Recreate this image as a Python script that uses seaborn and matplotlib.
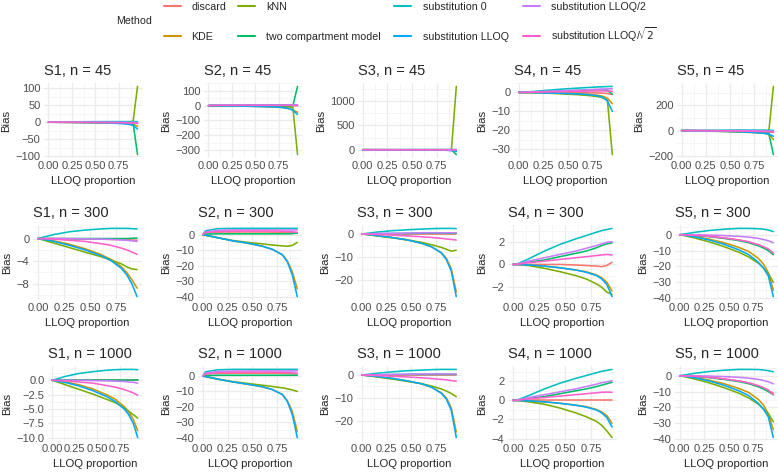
import numpy as np
import pandas as pd
import seaborn as sns
import matplotlib.pyplot as plt
from matplotlib.lines import Line2D
from matplotlib.ticker import FixedLocator, FuncFormatter

# -----------------------------
# DATA (bias by LLOQ proportion)
# -----------------------------
lloq = [0, 0.03, 0.15, 0.3, 0.45, 0.6, 0.7, 0.8, 0.85, 0.9, 0.95]

methods = ["discard", "KDE", "kNN", "two compartment model", "substitution 0",
           "substitution LLOQ", "substitution LLOQ/2", "substitution LLOQ/$\\sqrt{2}$"]
colors = ["#F8766D", "#CD9600", "#7CAE00", "#00BE67", "#00BFC4", "#00A9FF", "#C77CFF", "#FF61CC"]

# rows follow the order of `methods`
s1_n45 = [[0, 0, 0, 0, 0, -0.2, -0.4, -0.7, -1, -1.5, -3],
          [0, 0, -0.2, -0.4, -0.8, -1.3, -2, -3, -4, -6, -12],
          [0, 0, -0.5, -1, -1.5, -2, -2.5, -3, -3.5, -3, 105],
          [0, 0, 0, 0, 0, 0, 0, 0, 0.5, 2, -95],
          [0, 0.2, 0.8, 1.2, 1.5, 1.7, 1.8, 1.8, 1.8, 1.8, 1.7],
          [0, 0, -0.3, -0.7, -1.2, -2, -3, -4.5, -6, -9, -20],
          [0, 0, 0, 0, -0.1, -0.2, -0.3, -0.4, -0.5, -0.6, -1],
          [0, 0, -0.1, -0.3, -0.6, -1, -1.3, -1.7, -2, -2.5, -3.5]]
s2_n45 = [[0, 1.5, 1.8, 1.8, 1.8, 1.8, 1.7, 1.5, 1.3, 1, 0],
          [0, -0.3, -1.2, -2.5, -4, -6, -8, -13, -18, -28, -45],
          [0, -0.3, -1.2, -2.5, -3.5, -5, -6, -7, -8, -12, -330],
          [0, 0.5, 0.5, 0.5, 0.5, 0.5, 0.5, 0.5, 0.5, 0, 130],
          [0, 3, 4, 4.3, 4.3, 4.3, 4.3, 4.3, 4.3, 4.3, 4.3],
          [0, -0.3, -1.2, -2.5, -4, -6, -8, -13, -19, -30, -60],
          [0, 2.3, 3, 3.2, 3.2, 3.2, 3.2, 3.2, 3.2, 3.2, 3.2],
          [0, 1.8, 2.3, 2.4, 2.4, 2.4, 2.3, 2.2, 2, 1.8, 1.5]]
s3_n45 = [[0, 0, 0, 0, 0, 0, 0, 0, 0, 0, 0],
          [0, 0, -0.7, -1.5, -2.5, -4, -5.5, -8, -10, -15, -30],
          [0, 0, -0.8, -1.6, -2.5, -3.6, -4.6, -5.8, -6.6, -7, 1300],
          [0, 0, 0.1, 0.2, 0.2, 0.3, 0.3, 0.3, 0.3, 0, -100],
          [0, 0.2, 0.8, 1.4, 1.8, 2.1, 2.3, 2.4, 2.4, 2.4, 2.3],
          [0, 0, -0.7, -1.5, -2.5, -4, -5.5, -8.2, -11, -16, -35],
          [0, 0, 0.2, 0.3, 0.4, 0.5, 0.5, 0.5, 0.5, 0.5, 0.5],
          [0, 0, -0.2, -0.5, -0.8, -1.2, -1.5, -1.9, -2.1, -2.4, -3]]
s4_n45 = [[0, 0, 0, 0, 0, -0.1, -0.2, -0.3, -0.4, -0.6, -1],
          [0, 0, -0.1, -0.3, -0.5, -0.7, -1, -1.5, -2, -3, -6],
          [0, 0, -0.1, -0.4, -0.8, -1.2, -1.6, -2.2, -2.8, -4, -33],
          [0, 0, 0.2, 0.5, 0.8, 1.1, 1.3, 1.4, 1.4, 1.2, -1],
          [0, 0, 0.5, 1.2, 1.8, 2.3, 2.6, 2.9, 3, 3.1, 3.2],
          [0, 0, -0.1, -0.3, -0.5, -0.8, -1.1, -1.8, -2.5, -4.5, -10],
          [0, 0, 0.3, 0.6, 0.9, 1.2, 1.4, 1.7, 1.8, 1.9, 1.9],
          [0, 0, 0.15, 0.3, 0.45, 0.6, 0.7, 0.8, 0.8, 0.8, 0.6]]
s5_n45 = [[0, 0, -0.3, -1, -2, -3.3, -4.5, -6.5, -8, -10, -15],
          [0, 0, -1, -2.8, -5, -8, -10.5, -15, -19, -28, -70],
          [0, 0, -2, -4.5, -7.5, -11, -14, -18, -21, -25, 350],
          [0, 0, -0.4, -1.2, -2.3, -3.7, -5, -7, -9, -15, -190],
          [0, 0.3, 1.5, 2.7, 3.5, 4, 4, 3.8, 3.5, 3, 2],
          [0, 0, -1.3, -3.3, -6, -9.5, -12.5, -17.5, -21, -27, -45],
          [0, 0, 0, -0.2, -0.5, -1, -1.5, -2.3, -3, -3.8, -5],
          [0, 0, -0.3, -1, -2, -3.3, -4.5, -6.3, -7.5, -9, -12]]

s1_n300 = [[0, 0, 0, -0.05, -0.1, -0.1, -0.15, -0.2, -0.2, -0.25, -0.3],
           [0, -0.05, -0.4, -1.0, -1.8, -2.8, -3.7, -5.0, -6.0, -7.3, -8.8],
           [0, -0.15, -0.8, -1.6, -2.4, -3.2, -3.8, -4.5, -5.0, -5.4, -5.5],
           [0, 0, 0, 0, 0, 0, 0, 0, 0, 0.05, 0.1],
           [0, 0.15, 0.7, 1.2, 1.5, 1.7, 1.8, 1.8, 1.8, 1.75, 1.7],
           [0, -0.08, -0.5, -1.2, -2.0, -3.0, -3.9, -5.3, -6.4, -8.0, -10.3],
           [0, 0, 0, 0, -0.05, -0.1, -0.15, -0.25, -0.3, -0.4, -0.5],
           [0, 0, -0.1, -0.3, -0.5, -0.9, -1.2, -1.7, -2.0, -2.4, -2.8]]
s2_n300 = [[0, 1.2, 1.6, 1.7, 1.7, 1.7, 1.6, 1.5, 1.4, 1.2, 1],
           [0, -0.4, -2, -4, -5.5, -7.5, -9.5, -13, -17, -24, -35],
           [0, -0.4, -2, -3.8, -5, -6, -6.7, -7.3, -7.5, -7, -5],
           [0, 0.3, 0.5, 0.5, 0.5, 0.5, 0.5, 0.5, 0.5, 0.6, 1],
           [0, 2.5, 3.8, 4, 4, 4, 4, 4, 4, 4, 4],
           [0, -0.4, -2, -4, -5.5, -7.5, -9.5, -13, -17.5, -26, -40],
           [0, 1.8, 2.7, 3, 3, 3, 3, 3, 3, 3, 3],
           [0, 1.4, 2, 2.3, 2.3, 2.3, 2.3, 2.2, 2, 1.8, 1.5]]
s3_n300 = [[0, 0, 0, 0, 0, 0, 0, 0, 0, 0, 0],
           [0, -0.1, -0.7, -1.5, -2.5, -4, -5.5, -8, -10.5, -15, -25],
           [0, -0.1, -0.8, -1.6, -2.5, -3.6, -4.6, -5.8, -6.6, -7.4, -7],
           [0, 0, 0.1, 0.2, 0.2, 0.3, 0.3, 0.3, 0.3, 0.3, 0.3],
           [0, 0.15, 0.8, 1.4, 1.8, 2.1, 2.3, 2.4, 2.4, 2.4, 2.3],
           [0, -0.1, -0.7, -1.5, -2.5, -4, -5.5, -8.2, -11, -16, -27],
           [0, 0, 0.2, 0.3, 0.4, 0.5, 0.5, 0.5, 0.5, 0.5, 0.5],
           [0, 0, -0.2, -0.5, -0.8, -1.2, -1.5, -1.9, -2.1, -2.4, -2.6]]
s4_n300 = [[0, 0, 0, 0, 0, -0.05, -0.1, -0.15, -0.2, -0.1, 0.2],
           [0, 0, -0.05, -0.15, -0.3, -0.5, -0.65, -0.95, -1.2, -1.6, -2.4],
           [0, 0, -0.1, -0.35, -0.65, -1.0, -1.3, -1.75, -2.05, -2.5, -2.7],
           [0, 0, 0.2, 0.4, 0.7, 1.0, 1.2, 1.5, 1.7, 1.85, 1.95],
           [0, 0, 0.5, 1.2, 1.8, 2.3, 2.6, 2.9, 3.05, 3.15, 3.25],
           [0, 0, -0.05, -0.15, -0.3, -0.5, -0.7, -1.0, -1.3, -1.8, -2.9],
           [0, 0, 0.3, 0.6, 0.9, 1.2, 1.45, 1.7, 1.85, 2.0, 2.05],
           [0, 0, 0.15, 0.3, 0.45, 0.6, 0.7, 0.8, 0.85, 0.9, 0.85]]
s5_n300 = [[0, 0, -0.3, -1, -2, -3.3, -4.5, -6.5, -8, -9.5, -12.5],
           [0, -0.1, -1, -2.8, -5, -8, -10.5, -15, -18.5, -24, -35],
           [0, -0.3, -2, -4.5, -7.5, -11, -14, -18, -21, -24.5, -30],
           [0, 0, -0.4, -1.2, -2.3, -3.7, -5, -7, -8.3, -10, -12.5],
           [0, 0.3, 1.5, 2.7, 3.5, 4, 4, 3.8, 3.5, 3, 2],
           [0, -0.1, -1.3, -3.3, -6, -9.5, -12.5, -17.5, -21, -26, -39],
           [0, 0, 0, -0.2, -0.5, -1, -1.5, -2.3, -3, -3.8, -5],
           [0, 0, -0.3, -1, -2, -3.3, -4.5, -6.3, -7.5, -9, -11.5]]

s1_n1000 = [[0, 0, 0, 0, 0, 0, 0, 0, 0, 0, 0],
            [0, -0.05, -0.3, -0.8, -1.5, -2.5, -3.3, -4.6, -5.5, -6.8, -8.8],
            [0, -0.15, -0.8, -1.6, -2.4, -3.3, -3.9, -4.8, -5.4, -6.0, -6.6],
            [0, 0, 0, 0, 0, 0, 0, 0, 0, 0, 0],
            [0, 0.15, 0.7, 1.2, 1.5, 1.75, 1.85, 1.9, 1.9, 1.9, 1.85],
            [0, -0.08, -0.4, -1.0, -1.8, -2.8, -3.7, -5.0, -6.0, -7.5, -10],
            [0, 0, 0, 0, -0.05, -0.1, -0.15, -0.2, -0.3, -0.35, -0.5],
            [0, 0, -0.1, -0.3, -0.5, -0.9, -1.2, -1.6, -1.9, -2.2, -2.6]]
s2_n1000 = [[0, 1.3, 1.7, 1.8, 1.8, 1.8, 1.8, 1.7, 1.6, 1.5, 1.3],
            [0, -0.4, -2, -3.8, -5.3, -7, -8.8, -12, -16, -23, -36],
            [0, -0.4, -2, -3.6, -4.8, -6, -6.8, -7.7, -8.3, -9, -10],
            [0, 0.3, 0.5, 0.5, 0.5, 0.5, 0.5, 0.5, 0.5, 0.5, 0.5],
            [0, 2.8, 4, 4.3, 4.3, 4.3, 4.3, 4.3, 4.3, 4.3, 4.3],
            [0, -0.4, -2, -3.8, -5.3, -7, -8.8, -12, -16.5, -25, -40],
            [0, 2, 2.9, 3.2, 3.3, 3.3, 3.3, 3.3, 3.3, 3.3, 3.3],
            [0, 1.5, 2.2, 2.5, 2.5, 2.5, 2.5, 2.4, 2.3, 2.1, 1.8]]
s3_n1000 = [[0, 0, 0, 0, 0, 0, 0, 0, 0, 0, 0],
            [0, -0.1, -0.6, -1.4, -2.5, -3.8, -5.3, -7.8, -10, -14.5, -25],
            [0, -0.1, -0.8, -1.7, -2.7, -3.8, -4.8, -6.1, -7.0, -8.1, -9.5],
            [0, 0, 0.1, 0.2, 0.3, 0.3, 0.3, 0.3, 0.3, 0.3, 0.3],
            [0, 0.15, 0.8, 1.4, 1.9, 2.2, 2.4, 2.5, 2.5, 2.5, 2.5],
            [0, -0.1, -0.6, -1.4, -2.5, -3.8, -5.3, -8, -10.5, -15.5, -27.5],
            [0, 0, 0.2, 0.3, 0.4, 0.5, 0.5, 0.5, 0.5, 0.5, 0.5],
            [0, 0, -0.2, -0.5, -0.8, -1.2, -1.5, -1.9, -2.1, -2.4, -2.7]]
s4_n1000 = [[0, 0, 0, 0, 0, 0, 0, 0, 0, 0, 0],
            [0, 0, -0.05, -0.15, -0.3, -0.5, -0.65, -0.95, -1.2, -1.6, -2.4],
            [0, 0, -0.15, -0.4, -0.8, -1.3, -1.7, -2.2, -2.6, -3.2, -3.9],
            [0, 0, 0.2, 0.4, 0.7, 1.0, 1.2, 1.45, 1.6, 1.75, 1.9],
            [0, 0, 0.5, 1.2, 1.8, 2.3, 2.6, 2.9, 3.05, 3.15, 3.25],
            [0, 0, -0.05, -0.15, -0.3, -0.5, -0.7, -1.0, -1.3, -1.8, -2.8],
            [0, 0, 0.3, 0.6, 0.9, 1.2, 1.45, 1.7, 1.85, 1.95, 2.05],
            [0, 0, 0.15, 0.3, 0.45, 0.6, 0.7, 0.8, 0.85, 0.87, 0.85]]
s5_n1000 = [[0, 0, -0.3, -1, -2, -3.3, -4.5, -6.5, -8, -9.5, -11],
            [0, -0.1, -1, -2.8, -5, -8, -10.5, -15, -18.5, -24, -34],
            [0, -0.3, -2, -4.5, -7.5, -11, -14, -18, -21, -24, -29],
            [0, 0, -0.4, -1.2, -2.3, -3.7, -5, -7, -8.3, -10, -12],
            [0, 0.3, 1.5, 2.7, 3.5, 4, 4, 3.9, 3.6, 3.2, 2.5],
            [0, -0.1, -1.3, -3.3, -6, -9.5, -12.5, -17.5, -21, -26, -39],
            [0, 0, 0, -0.2, -0.5, -1, -1.5, -2.3, -3, -3.8, -5],
            [0, 0, -0.3, -1, -2, -3.3, -4.5, -6.3, -7.5, -9, -12]]

# y-axis breaks per panel (as printed on the chart)
yticks_n45 = [[-100, -50, 0, 50, 100], [-300, -200, -100, 0, 100], [0, 500, 1000],
              [-30, -20, -10, 0], [-200, 0, 200]]
yticks_n300 = [[-8, -4, 0], [-40, -30, -20, -10, 0], [-20, -10, 0], [-2, 0, 2],
               [-40, -30, -20, -10, 0]]
yticks_n1000 = [[-10.0, -7.5, -5.0, -2.5, 0.0], [-40, -30, -20, -10, 0], [-20, -10, 0],
                [-4, -2, 0, 2], [-40, -30, -20, -10, 0]]

grid_data = [[s1_n45, s2_n45, s3_n45, s4_n45, s5_n45],
             [s1_n300, s2_n300, s3_n300, s4_n300, s5_n300],
             [s1_n1000, s2_n1000, s3_n1000, s4_n1000, s5_n1000]]
grid_ticks = [yticks_n45, yticks_n300, yticks_n1000]
sizes = [45, 300, 1000]

# -----------------------------
# STYLE
# -----------------------------
sns.set_style("white")
plt.rcParams["font.family"] = ["Liberation Sans", "DejaVu Sans"]
plt.rcParams["mathtext.fontset"] = "dejavusans"
plt.rcParams["axes.unicode_minus"] = True

W, H = 778, 473
fig = plt.figure(figsize=(W / 100, H / 100), dpi=100)

# pixel layout of panels (left edges differ with tick label width)
rights = [142, 302, 461, 617, 778]
lefts = [[44, 204, 358, 514, 677],
         [33, 198, 357, 508, 675],
         [48, 198, 357, 508, 675]]
tops = [83, 225, 366]
panel_h = 75

palette = dict(zip(methods, colors))

for r in range(3):
    for c in range(5):
        l, rt = lefts[r][c], rights[c]
        t = tops[r]
        ax = fig.add_axes([l / W, 1 - (t + panel_h) / H, (rt - l) / W, panel_h / H])
        rows = []
        for m, vals in zip(methods, grid_data[r][c]):
            rows += [(x, v, m) for x, v in zip(lloq, vals)]
        df = pd.DataFrame(rows, columns=["LLOQ proportion", "Bias", "Method"])
        sns.lineplot(data=df, x="LLOQ proportion", y="Bias", hue="Method",
                     hue_order=methods, palette=palette, ax=ax, legend=False,
                     linewidth=1.15, estimator=None, sort=False)
        ticks = grid_ticks[r][c]
        step = ticks[1] - ticks[0]
        ax.margins(x=0.05, y=0.05)
        ax.yaxis.set_major_locator(FixedLocator(ticks))
        ax.yaxis.set_minor_locator(FixedLocator(
            np.arange(ticks[0] - step / 2, ticks[-1] + step, step)))
        dec = 1 if (r == 2 and c == 0) else 0
        ax.yaxis.set_major_formatter(FuncFormatter(
            lambda v, p, d=dec: f"{v:.{d}f}".replace("-", "\u2212")))
        ax.xaxis.set_major_locator(FixedLocator([0, 0.25, 0.5, 0.75]))
        ax.xaxis.set_minor_locator(FixedLocator([0.125, 0.375, 0.625, 0.875]))
        ax.xaxis.set_major_formatter(FuncFormatter(lambda v, p: f"{v:.2f}"))
        ax.grid(which="major", color="#EBEBEB", linewidth=0.9)
        ax.grid(which="minor", color="#F2F2F2", linewidth=0.5)
        ax.set_axisbelow(True)
        for s in ax.spines.values():
            s.set_visible(False)
        ax.tick_params(which="both", length=0, labelsize=8, labelcolor="#4D4D4D", pad=2.5)
        ax.set_xlabel("LLOQ proportion", fontsize=8.2, labelpad=3)
        ax.set_ylabel("Bias", fontsize=8.2, labelpad=3)
        ax.set_title(f"S{c + 1}, n = {sizes[r]}", loc="left", fontsize=10.5, pad=6)

# legend at the top, laid out like ggplot's two-row legend
key_x = [164, 238, 394, 523]
text_x = [191, 266, 423, 551]
row_y = [6, 36]
for i, (m, col) in enumerate(zip(methods, colors)):
    cx, ry = i // 2, row_y[i % 2]
    y = 1 - ry / H
    fig.add_artist(Line2D([key_x[cx] / W, (key_x[cx] + 17) / W], [y, y],
                          color=col, linewidth=1.5, transform=fig.transFigure))
    fig.text(text_x[cx] / W, 1 - (ry + 3.8) / H, m, fontsize=7.7,
             ha="left", va="baseline")
fig.text(116 / W, 1 - 21 / H, "Method", fontsize=7.7, ha="left", va="center")

fig.savefig("out.png", dpi=100)
